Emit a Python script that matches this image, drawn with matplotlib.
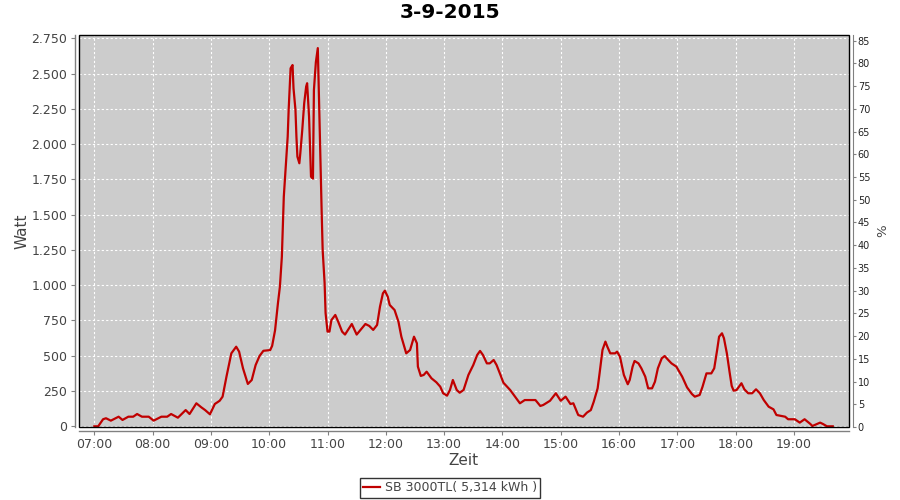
import matplotlib
matplotlib.use("Agg")
import matplotlib.pyplot as plt
from matplotlib.patches import Rectangle
import numpy as np

# Time of day and power (W)
times = [
    "07:00", "07:04", "07:09", "07:12", "07:17", "07:25", "07:29", "07:35", "07:40", "07:44",
    "07:49", "07:56", "08:01", "08:09", "08:15", "08:19", "08:26", "08:34", "08:38", "08:45",
    "08:50", "08:54", "08:59", "09:04", "09:09", "09:12", "09:16", "09:21", "09:26", "09:29",
    "09:33", "09:38", "09:42", "09:46", "09:50", "09:54", "10:01", "10:03", "10:06", "10:09",
    "10:11", "10:13", "10:14", "10:15", "10:17", "10:19", "10:20", "10:21", "10:22", "10:24",
    "10:25", "10:27", "10:28", "10:29", "10:31", "10:32", "10:34", "10:36", "10:38", "10:39",
    "10:41", "10:42", "10:43", "10:45", "10:46", "10:48", "10:50", "10:51", "10:52", "10:54",
    "10:55", "10:57", "10:58", "11:00", "11:02", "11:04", "11:08", "11:11", "11:15", "11:18",
    "11:25", "11:30", "11:39", "11:43", "11:47", "11:51", "11:54", "11:57", "11:59", "12:02",
    "12:04", "12:09", "12:13", "12:16", "12:21", "12:25", "12:29", "12:32", "12:33", "12:36",
    "12:39", "12:42", "12:47", "12:52", "12:56", "12:59", "13:03", "13:06", "13:09", "13:13",
    "13:16", "13:20", "13:25", "13:30", "13:34", "13:37", "13:40", "13:44", "13:47", "13:51",
    "13:54", "13:58", "14:01", "14:08", "14:13", "14:18", "14:23", "14:34", "14:39", "14:42",
    "14:49", "14:55", "15:00", "15:05", "15:10", "15:13", "15:18", "15:23", "15:27", "15:31",
    "15:34", "15:38", "15:40", "15:43", "15:46", "15:48", "15:51", "15:56", "15:58", "16:01",
    "16:05", "16:09", "16:11", "16:14", "16:16", "16:20", "16:23", "16:27", "16:30", "16:34",
    "16:37", "16:40", "16:44", "16:47", "16:50", "16:54", "16:59", "17:05", "17:10", "17:15",
    "17:18", "17:23", "17:26", "17:30", "17:35", "17:38", "17:41", "17:43", "17:46", "17:48",
    "17:51", "17:54", "17:56", "17:58", "18:01", "18:06", "18:09", "18:13", "18:17", "18:21",
    "18:25", "18:29", "18:34", "18:39", "18:42", "18:51", "18:54", "19:01", "19:06", "19:11",
    "19:17", "19:19", "19:27", "19:30", "19:34", "19:40",
]
watt = [
    0, 0, 50, 57, 40, 68, 45, 68, 68, 87,
    68, 68, 40, 68, 68, 87, 61, 115, 87, 163,
    135, 115, 85, 158, 181, 210, 352, 517, 564, 529,
    411, 300, 328, 434, 498, 535, 540, 570, 680, 874,
    990, 1202, 1415, 1627, 1840, 2052, 2242, 2395, 2537, 2560,
    2395, 2242, 2052, 1911, 1864, 1935, 2100, 2289, 2407, 2431,
    2194, 1982, 1769, 1755, 2383, 2580, 2680, 2383, 2100, 1512,
    1249, 1015, 803, 671, 671, 753, 789, 741, 671, 650,
    725, 650, 725, 711, 683, 718, 848, 942, 961, 918,
    860, 824, 741, 635, 517, 541, 635, 588, 423, 357,
    364, 387, 340, 312, 281, 234, 217, 257, 328, 257,
    238, 257, 364, 434, 505, 534, 505, 446, 446, 470,
    434, 364, 309, 257, 210, 163, 186, 186, 144, 151,
    181, 234, 181, 210, 158, 163, 80, 68, 97, 115,
    174, 269, 375, 541, 600, 564, 517, 517, 529, 493,
    364, 298, 328, 423, 463, 446, 411, 352, 269, 269,
    316, 411, 482, 498, 475, 446, 423, 352, 276, 229,
    210, 222, 281, 375, 375, 411, 541, 635, 659, 624,
    517, 375, 286, 252, 257, 305, 262, 234, 234, 262,
    234, 186, 139, 120, 80, 68, 50, 50, 26, 50,
    16, 2, 26, 16, 0, 0,
]

hour_ticks = list(range(7, 20))
hour_labels = [f"{h:02d}:00" for h in hour_ticks]
watt_ticks = list(range(0, 2751, 250))
watt_labels = [f"{v:,}".replace(",", ".") for v in watt_ticks]
pct_ticks = list(range(0, 86, 5))

title = "3-9-2015"
series_label = "SB 3000TL( 5,314 kWh )"

RED = "#c00000"
GRAY = "#808080"
TXT = "#444444"

hours = [int(t[:2]) + int(t[3:]) / 60 for t in times]

fig = plt.figure(figsize=(9, 5), dpi=100)
ax = fig.add_axes([79 / 900, 73 / 500, 769.7 / 900, 392.3 / 500])
ax.set_facecolor("#cccccc")

line, = ax.plot(hours, watt, color=RED, lw=1.6, label=series_label, zorder=3)

ax.set_xlim(6.737, 19.94)
ax.set_ylim(-5, 2775)
ax.set_xticks(hour_ticks)
ax.set_xticklabels(hour_labels)
ax.set_yticks(watt_ticks)
ax.set_yticklabels(watt_labels)
ax.grid(True, color="white", ls=(0, (2, 2)), lw=0.8)
ax.set_axisbelow(True)

for side in ("top", "right"):
    ax.spines[side].set_visible(False)
for side in ("left", "bottom"):
    ax.spines[side].set_position(("outward", 3))
    ax.spines[side].set_color(GRAY)
    ax.spines[side].set_linewidth(1.0)
ax.tick_params(axis="both", colors=GRAY, length=3, width=0.8, labelsize=9, labelcolor=TXT)
ax.tick_params(axis="y", pad=2.5)
ax.tick_params(axis="x", pad=2)

ax.set_xlabel("Zeit", fontsize=11, color=TXT, labelpad=1.5)
ax.set_ylabel("Watt", fontsize=11, color=TXT, labelpad=1)

# black plot frame
ax.add_patch(Rectangle((0, 0), 1, 1, transform=ax.transAxes, fill=False,
                       edgecolor="black", lw=1.0, clip_on=False, zorder=5))

ax2 = ax.twinx()
ax2.set_ylim(0, 86.3)
ax2.set_yticks(pct_ticks)
for side in ("top", "left", "bottom"):
    ax2.spines[side].set_visible(False)
ax2.spines["right"].set_position(("outward", 3))
ax2.spines["right"].set_color(GRAY)
ax2.tick_params(axis="y", colors=GRAY, length=2, width=0.8, labelsize=7,
                labelcolor="#222222", pad=1.5)
ax2.set_ylabel("%", fontsize=9.5, color=TXT, labelpad=4)

fig.text(0.5, 0.9756, title, ha="center", va="center", fontsize=14.5,
         fontweight="bold", color="black")

leg = fig.legend(handles=[line], loc="center", bbox_to_anchor=(0.5, 0.024),
                 fontsize=9, frameon=True, fancybox=False, handlelength=1.3,
                 handletextpad=0.4, borderpad=0.25, borderaxespad=0)
leg.get_frame().set_edgecolor("black")
leg.get_frame().set_linewidth(1.0)
for t in leg.get_texts():
    t.set_color(TXT)

fig.savefig("out.png", dpi=100)
